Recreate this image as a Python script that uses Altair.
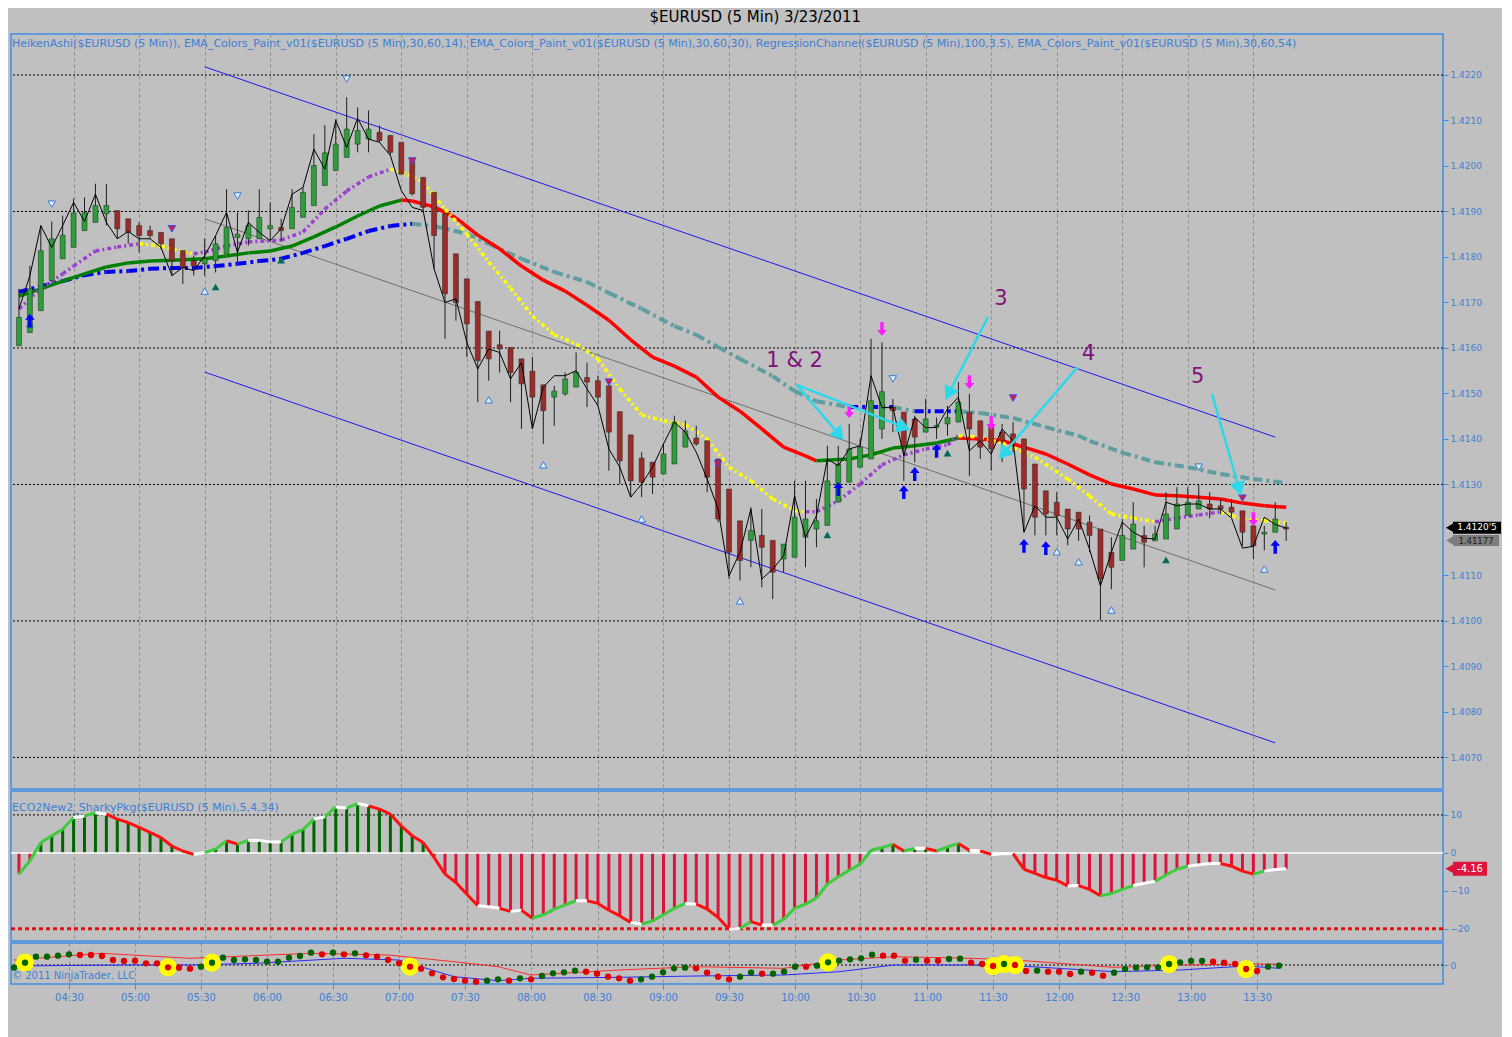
import altair as alt
import pandas as pd

# ---------------- data (prices in pips above 1.4000, 1 pip = 0.0001) ----------------
START_MIN = 245          # first bar = 04:05
BAR_MIN = 5
BASE = 1.4

ha_open = [160.5,163.4,168.2,174.8,179.6,182.1,185.8,187.6,189.5,190.2,188.4,186.9,185.8,185.4,184.0,181.4,179.2,178.5,179.2,180.7,
           184.3,184.0,184.0,186.2,186.5,186.2,188.7,191.3,195.7,199.0,201.9,204.8,205.9,207.4,206.7,205.2,201.5,197.5,194.2,189.5,
           180.7,175.2,170.2,163.7,160.7,160.1,157.6,154.9,151.9,149.2,149.9,151.4,153.5,152.8,151.7,146.0,140.9,135.8,134.9,132.3,
           134.5,138.2,140.2,139.6,135.6,129.0,122.0,117.7,118.8,117.7,113.6,114.0,118.4,120.2,121.0,126.1,130.5,133.8,135.6,142.2,
           147.0,145.9,144.4,141.5,142.6,143.3,143.7,145.9,144.0,143.0,141.5,141.1,140.0,134.5,128.6,126.1,124.6,123.9,121.7,120.2,
           115.1,113.3,115.8,118.8,117.6,118.0,120.2,123.2,124.6,125.7,125.3,125.0,124.2,120.9,119.1,119.5,120.6]
ha_close = [166.7,173.0,181.4,184.0,184.8,189.7,189.7,191.3,191.3,186.2,185.4,184.7,184.7,182.9,179.2,177.7,178.0,179.6,182.9,186.5,
            185.0,186.9,188.7,186.9,185.8,190.9,194.2,200.1,202.9,204.8,208.1,207.8,208.1,205.6,203.0,198.2,193.9,190.9,184.7,171.9,
            170.0,165.3,157.2,157.6,159.8,154.6,152.1,149.2,146.2,150.5,153.2,154.6,152.5,149.2,141.5,135.2,130.8,130.5,131.6,136.7,
            143.7,141.8,138.9,131.6,122.4,115.1,113.3,119.9,116.2,110.7,116.9,122.8,122.4,122.0,130.8,134.5,137.8,138.2,148.4,150.4,
            146.2,138.5,140.4,144.4,143.0,144.7,148.1,142.2,138.2,137.8,139.6,139.3,129.0,122.8,123.5,123.1,120.2,120.2,118.8,109.2,
            111.8,118.8,121.3,117.3,119.1,123.5,125.7,126.1,126.4,124.6,124.6,123.9,119.5,116.5,119.5,122.4,120.2]
ha_high = [173.0,178.1,186.9,187.8,189.1,192.8,193.1,196.1,196.1,190.2,188.4,187.6,186.9,185.4,184.0,181.4,180.3,184.0,184.7,194.9,
           189.8,190.2,194.9,192.0,188.4,194.9,195.3,207.0,209.0,210.3,215.1,212.9,212.2,208.9,206.7,205.2,201.5,197.5,194.2,189.5,
           180.7,175.2,170.2,163.7,163.8,160.1,157.6,158.0,151.9,151.7,154.6,159.0,156.8,153.9,151.7,146.0,140.9,137.1,134.9,138.9,
           145.1,144.0,142.9,139.6,135.6,129.0,122.0,125.0,124.6,117.7,116.9,130.8,130.8,126.8,138.5,138.5,143.3,140.0,162.0,161.2,
           148.8,145.9,145.1,148.8,144.7,147.3,152.5,149.9,144.0,145.1,143.3,143.7,140.0,134.5,128.6,128.3,124.6,123.9,123.2,120.2,
           118.4,122.4,126.1,120.9,120.9,128.3,129.4,129.4,129.9,128.3,126.8,126.8,124.2,123.2,120.9,126.1,121.7]
ha_low = [160.5,163.4,168.2,174.8,179.6,182.1,185.8,187.6,186.9,184.0,182.9,181.0,184.0,181.8,175.9,174.1,175.9,175.9,176.6,180.7,
          178.8,182.5,184.0,183.6,183.6,186.2,188.7,191.3,195.7,199.0,201.9,203.0,203.0,205.2,202.3,198.2,193.5,190.2,177.4,162.0,
          166.0,158.0,148.1,152.8,154.6,148.1,142.2,142.2,138.9,142.9,149.5,151.4,147.0,147.3,133.0,130.1,127.2,127.2,127.9,132.3,
          134.5,138.2,138.5,128.3,121.7,109.2,108.9,111.8,107.4,104.8,110.7,114.0,111.8,116.2,121.0,126.1,130.5,133.8,135.6,140.0,
          141.5,130.8,134.9,141.5,140.0,140.7,143.7,131.9,135.6,133.0,134.9,137.1,119.5,118.8,118.8,118.8,116.6,117.6,115.1,100.1,
          107.0,113.3,115.8,111.8,117.6,118.0,120.2,123.2,124.6,122.6,123.5,122.8,116.5,113.6,115.5,119.5,117.6]
close_line = [168.6,175.9,186.9,182.1,186.9,192.0,187.8,193.8,187.6,184.0,185.6,184.0,184.0,182.1,175.9,177.7,177.0,180.3,184.7,189.8,
              181.0,187.6,185.4,183.6,186.2,193.8,195.3,203.7,199.3,210.0,204.1,210.5,205.9,205.2,202.3,194.6,190.9,190.2,177.4,170.0,
              170.8,161.2,155.4,159.8,159.0,153.2,156.8,142.2,151.4,153.9,153.9,155.0,151.0,147.3,137.8,133.8,127.2,130.1,133.8,138.9,
              143.7,141.5,137.1,131.2,124.6,109.9,115.1,124.6,109.2,111.4,114.3,127.5,118.4,123.1,135.6,134.1,137.8,138.5,153.9,146.9,
              146.9,136.3,144.7,142.5,142.5,146.6,149.2,137.4,139.6,136.7,142.2,139.6,119.5,125.3,122.8,122.8,118.0,122.4,115.8,107.7,
              115.1,121.7,119.5,118.2,118.0,126.1,125.3,125.7,125.7,124.6,124.6,122.6,116.0,116.4,122.8,121.2,120.4]

ema14_bar = [0,2,4,5,7,9,11,13,15,16,17,19,21,24,26,28,30,32,34,35,37,39,41,43,45,47,49,51,53,55,57,59,61,63,65,67,69,71,72,
             73,75,77,79,81,83,85,86,88,90,93,96,98,100,102,104,106,108,110,112,114,116]
ema14_pips = [168.6,173.0,176.3,178.0,181.3,182.2,182.9,182.4,181.1,180.7,181.1,182.4,183.3,183.7,185.5,190.5,194.5,197.6,199.3,198.7,
              196.5,190.5,185.1,178.9,173.2,167.0,162.9,160.9,157.6,151.0,145.3,144.0,143.1,140.0,133.8,130.8,126.8,124.2,124.0,
              124.0,126.4,130.1,134.3,136.5,137.8,138.7,140.7,140.4,139.1,136.0,131.2,127.5,123.5,122.6,121.8,122.6,123.3,124.0,122.4,122.0,121.5]

ema30_bar = [0,2,4,6,8,10,12,14,17,19,21,23,25,27,29,31,33,35,36,38,40,42,44,46,48,50,52,54,56,58,60,62,64,66,68,70,72,73,
             76,78,80,82,84,86,88,90,92,94,96,98,100,102,104,106,108,110,112,114,116]
ema30_pips = [171.4,173.0,174.7,176.3,177.8,178.7,179.1,179.3,179.6,180.2,180.9,181.3,182.4,184.4,186.6,189.0,191.2,192.5,192.3,191.0,
              188.6,184.8,181.8,178.0,174.9,172.5,169.4,166.1,161.8,158.0,156.0,153.6,149.2,146.1,142.2,138.2,136.3,135.2,
              135.6,136.5,138.0,138.5,139.1,140.2,140.0,139.6,138.2,136.7,134.5,132.1,130.1,129.0,127.7,127.5,127.2,126.8,125.9,125.3,125.0]

ema54_bar = [0,2,4,6,8,10,12,14,16,18,20,22,24,26,28,30,32,34,36,38,41,43,46,49,52,54,57,60,62,64,66,69,71,73,76,80,82,86,88,
             91,94,97,98,101,104,107,110,113,116]
ema54_pips = [172.3,173.6,174.7,176.0,176.7,176.9,177.4,177.6,177.6,178.0,178.5,179.1,179.6,180.9,182.4,184.0,185.7,186.8,187.3,186.8,
              185.1,182.9,179.6,176.7,174.5,172.1,168.6,164.8,162.9,160.2,157.6,153.8,150.5,148.3,147.0,147.0,146.1,146.1,145.7,
              144.6,142.6,140.7,139.6,137.0,134.9,133.8,132.3,131.2,130.3]

# regression channel (100 bars): start / end values
reg_bars = [17, 115]
reg_upper = [221.8, 140.4]
reg_mid = [188.4, 106.8]
reg_lower = [154.7, 73.2]

level_lines = [1.4070, 1.4100, 1.4130, 1.4160, 1.4190, 1.4220]
# right-axis price labels (1.4120 sits under the last-price tag)
price_ticks = [1.4070, 1.4080, 1.4090, 1.4100, 1.4110, 1.4130, 1.4140, 1.4150, 1.4160, 1.4170,
               1.4180, 1.4190, 1.4200, 1.4210, 1.4220]

# markers (bar index, pips)
swing_high_bar = [3, 20, 30, 80, 108]
swing_high_pips = [191.6, 193.4, 219.1, 153.2, 133.8]
swing_low_bar = [17, 43, 48, 57, 66, 95, 97, 100, 114]
swing_low_pips = [172.5, 148.6, 134.3, 122.4, 104.4, 115.2, 113.0, 102.4, 111.4]
teal_up_bar = [1, 18, 24, 74, 85, 105]
teal_up_pips = [165.3, 173.4, 179.3, 118.9, 136.9, 113.4]
red_down_bar = [14, 36, 54, 64, 91, 112]
red_down_pips = [186.2, 201.1, 152.5, 134.5, 149.0, 127.0]
blue_arrow_bar = [1, 75, 81, 82, 84, 92, 94, 115]
blue_arrow_pips = [166.0, 129.0, 128.3, 132.3, 137.4, 116.5, 116.0, 116.3]
mag_arrow_bar = [76, 79, 87, 89, 113]
mag_arrow_pips = [146.1, 164.2, 152.5, 143.5, 122.4]

# hand-drawn notes: arrow from (bar, pips) to (bar, pips)
note_from_bar = [71.2, 71.2, 88.7, 96.9, 109.2]
note_from_pips = [151.9, 151.9, 166.8, 155.8, 149.9]
note_to_bar = [75.1, 81.0, 85.1, 90.1, 111.7]
note_to_pips = [140.9, 142.6, 149.9, 136.7, 129.0]
note_labels = ["1 & 2", "3", "4", "5"]
note_label_bar = [71.0, 89.9, 97.9, 107.9]
note_label_pips = [157.1, 170.8, 158.7, 153.6]

# ECO2New2 oscillator
eco = [-5.6,-2.1,2.7,4.5,6.2,9.3,9.7,10.6,10.2,8.9,8.0,6.7,5.4,4.0,1.8,0.5,-0.4,0.1,1.0,3.2,
       2.3,3.3,3.3,2.9,2.9,4.9,6.2,8.9,9.5,12.1,11.8,13.0,12.4,11.5,10.2,7.1,4.5,2.7,-1.2,-5.6,
       -7.8,-10.9,-13.9,-14.2,-14.6,-15.4,-15.1,-17.2,-16.3,-14.8,-13.7,-12.6,-12.6,-13.3,-15.1,-16.6,-18.3,-18.8,-17.9,-16.3,
       -14.6,-13.3,-13.5,-14.8,-17.0,-20.1,-19.9,-18.1,-19.0,-19.0,-17.5,-14.6,-13.5,-11.9,-8.2,-6.3,-4.6,-3.0,0.7,1.4,
       2.3,0.5,1.2,1.2,0.5,1.6,2.5,0.7,0.5,-0.4,-0.2,-0.2,-4.3,-5.4,-6.5,-7.2,-8.7,-8.6,-9.6,-11.3,
       -10.7,-9.6,-8.6,-8.0,-7.5,-5.8,-4.3,-3.5,-3.1,-2.8,-2.8,-3.5,-4.8,-5.6,-4.8,-4.4,-4.2]
eco_levels = [10, 0, -20]

# bottom dot oscillator
osc = [-2.7,2.3,8.3,8.3,9.3,10.7,10.0,10.0,9.0,5.0,4.0,4.3,1.7,1.7,-2.3,-2.7,-3.7,-1.7,2.3,7.3,
       5.0,5.7,5.0,3.3,3.3,7.3,9.0,12.3,10.7,12.3,10.7,11.7,9.7,8.3,5.0,1.7,-1.7,-3.7,-8.3,-12.3,
       -14.0,-15.7,-16.7,-15.7,-14.3,-15.7,-13.3,-14.3,-11.0,-8.3,-7.3,-5.7,-6.7,-8.7,-11.7,-13.3,-15.7,-14.3,-11.7,-7.3,
       -3.3,-2.7,-3.3,-7.7,-11.7,-14.3,-11.7,-7.7,-8.7,-8.7,-6.7,-1.7,-1.7,-0.7,2.7,4.3,5.7,6.7,10.3,9.3,
       9.3,4.3,5.3,4.3,4.3,6.0,6.3,2.3,1.0,-1.0,1.0,0.0,-6.0,-5.7,-6.7,-6.7,-9.0,-6.7,-7.7,-10.7,
       -7.7,-4.0,-2.7,-2.3,-2.3,1.0,2.7,4.0,4.0,3.3,2.3,1.0,-4.0,-6.0,-1.7,-0.7]
osc_col = ("gggggg" "rrrrrrrrrrr" "ggggggggggg" "r" "g" "r" "g" "rrrrrrrrrrr" "gg" "r" "g" "r" "gggg"
           "rrrrr" "ggggg" "rrrr" "gg" "r" "ggg" "r" "gggggg" "rrr" "g" "rr" "gg" "rrr" "g" "rr" "g"
           "rrr" "g" "rr" "ggggggggg" "rrrrr" "gg")
osc_alert_bars = [1, 14, 18, 36, 74, 89, 90, 91, 105, 112]
osc_red_bar = [0, 8, 16, 27, 34, 40, 44, 47, 55, 62, 70, 75, 80, 87, 91, 100, 106, 112, 115]
osc_red_val = [5, 11.7, 6.7, 11.7, 10, 3.3, -1.7, -10, -5, -1.7, -3.3, 5, 8.3, 6.7, 5, -2.3, 0, 1, 1]
osc_blue_bar = [0, 10, 16, 22, 30, 35, 40, 44, 47, 55, 62, 70, 75, 80, 87, 91, 100, 106, 112, 115]
osc_blue_val = [-1, 0, 0, 1.7, 6.7, 5, -11.7, -15.7, -13.3, -12.3, -11, -10, -6.7, 0, 0, -0.7, -6.7, -5, -1, -3.3]

last_price_pips = 120.5
last_price_text = "1.4120'5"
other_price_pips = 117.7
other_price_text = "1.41177"
eco_last_text = "-4.16"

x_ticks = [270, 300, 330, 360, 390, 420, 450, 480, 510, 540, 570, 600, 630, 660, 690, 720, 750, 780, 810]

# ---------------- helpers ----------------
def tmin(bar):
    return START_MIN + BAR_MIN * bar

def price(p):
    return round(BASE + p / 10000.0, 6)

N = len(ha_open)
W = 1432
FONT = "DejaVu Sans"
BLUE_TXT = "#3d7fd6"
PANEL = "#3d8fe8"

xscale = alt.Scale(domain=[243.64, 894.5], nice=False, zero=False)
grid_axis = alt.Axis(grid=True, gridColor="#8c8c8c", gridDash=[3, 3], gridWidth=1, labels=False,
                     ticks=False, domain=False, values=x_ticks, title=None)
X = alt.X("t:Q", scale=xscale, axis=grid_axis)

ysc_main = alt.Scale(domain=[price(63.06), price(229.01)], nice=False, zero=False)
yax_main = alt.Axis(orient="right", values=price_ticks, format=".4f",
                    labelColor=BLUE_TXT, tickColor=PANEL, domain=False, grid=False, title=None,
                    labelFontSize=9, tickSize=5, labelFont=FONT)
def YM(field):
    return alt.Y(field, type="quantitative", scale=ysc_main, axis=yax_main)

def HEX(field):
    return alt.Color(field, type="nominal", scale=None)


def seg_frame(bars, vals, up, down, name):
    rows = []
    for k in range(len(bars) - 1):
        c = up if vals[k + 1] >= vals[k] else down
        for j in (k, k + 1):
            rows.append(dict(t=tmin(bars[j]), y=price(vals[j]), seg=f"{name}{k}", c=c))
    return pd.DataFrame(rows)


# ---------------- main panel ----------------
candles = pd.DataFrame(dict(
    t=[tmin(i) for i in range(N)],
    o=[price(v) for v in ha_open], c=[price(v) for v in ha_close],
    h=[price(v) for v in ha_high], l=[price(v) for v in ha_low],
    close=[price(v) for v in close_line],
))
candles["col"] = ["#2e9e3c" if c >= o else "#9e2b2b" for o, c in zip(ha_open, ha_close)]

hl = alt.Chart(pd.DataFrame({"y": level_lines})).mark_rule(
    color="black", strokeDash=[2, 2], strokeWidth=1).encode(y=YM("y"))

gridlayer = alt.Chart(candles).mark_point(opacity=0, size=1).encode(x=X, y=YM("close"))

reg_rows = []
for name, vals, col in (("upper", reg_upper, "#1c1ce8"), ("mid", reg_mid, "#6e6e6e"), ("lower", reg_lower, "#1c1ce8")):
    for b, v in zip(reg_bars, vals):
        reg_rows.append(dict(t=tmin(b), y=price(v), line=name, c=col))
reg = alt.Chart(pd.DataFrame(reg_rows)).mark_line(strokeWidth=1).encode(
    x=X, y=YM("y"), detail="line:N", color=HEX("c"))

ema54 = alt.Chart(seg_frame(ema54_bar, ema54_pips, "#0000ee", "#5f9ea0", "e54")).mark_line(
    strokeWidth=4, strokeDash=[9, 4, 3, 4]).encode(x=X, y=YM("y"), detail="seg:N", color=HEX("c"))
ema30 = alt.Chart(seg_frame(ema30_bar, ema30_pips, "#008000", "#ff0000", "e30")).mark_line(
    strokeWidth=3.5).encode(x=X, y=YM("y"), detail="seg:N", color=HEX("c"))
ema14 = alt.Chart(seg_frame(ema14_bar, ema14_pips, "#9b3fd0", "#ffff00", "e14")).mark_line(
    strokeWidth=3.5, strokeDash=[4, 3, 2, 3]).encode(x=X, y=YM("y"), detail="seg:N", color=HEX("c"))

wicks = alt.Chart(candles).mark_rule(color="#1e1e1e", strokeWidth=1).encode(x=X, y=YM("l"), y2="h")
bodies = alt.Chart(candles).mark_bar(width=5, stroke="#1a2a1a", strokeWidth=0.5).encode(
    x=X, y=YM("o"), y2="c", color=HEX("col"))
closel = alt.Chart(candles).mark_line(color="black", strokeWidth=1).encode(x=X, y=YM("close"))


def mk(bars, pips):
    return pd.DataFrame(dict(t=[tmin(b) for b in bars], y=[price(p) for p in pips]))

sw_hi = alt.Chart(mk(swing_high_bar, swing_high_pips)).mark_point(
    shape="triangle-down", filled=True, fill="#d8f0ff", stroke="#3a78d0", strokeWidth=1, size=55, opacity=1
).encode(x=X, y=YM("y"))
sw_lo = alt.Chart(mk(swing_low_bar, swing_low_pips)).mark_point(
    shape="triangle-up", filled=True, fill="#d8f0ff", stroke="#3a78d0", strokeWidth=1, size=55, opacity=1
).encode(x=X, y=YM("y"))
teal = alt.Chart(mk(teal_up_bar, teal_up_pips)).mark_point(
    shape="triangle-up", filled=True, fill="#006b5e", size=60, opacity=1).encode(x=X, y=YM("y"))
reddn = alt.Chart(mk(red_down_bar, red_down_pips)).mark_point(
    shape="triangle-down", filled=True, fill="#e0143c", stroke="#3050ff", strokeWidth=1, size=55, opacity=1
).encode(x=X, y=YM("y"))
UP_ARROW = "M0,-1L0.7,-0.15L0.25,-0.15L0.25,1L-0.25,1L-0.25,-0.15L-0.7,-0.15Z"
DN_ARROW = "M0,1L0.7,0.15L0.25,0.15L0.25,-1L-0.25,-1L-0.25,0.15L-0.7,0.15Z"
barrow = alt.Chart(mk(blue_arrow_bar, blue_arrow_pips)).mark_point(
    shape=UP_ARROW, filled=True, fill="#0000ff", size=190, opacity=1).encode(x=X, y=YM("y"))
marrow = alt.Chart(mk(mag_arrow_bar, mag_arrow_pips)).mark_point(
    shape=DN_ARROW, filled=True, fill="#ff1aff", size=190, opacity=1).encode(x=X, y=YM("y"))

notes = pd.DataFrame(dict(
    t=[tmin(b) for b in note_from_bar], y=[price(p) for p in note_from_pips],
    t2=[tmin(b) for b in note_to_bar], y2=[price(p) for p in note_to_pips],
    ang=[139, 111, 207, 221, 164]))
note_lines = alt.Chart(notes).mark_rule(color="#2ed8ea", strokeWidth=2.5).encode(
    x=X, y=YM("y"), x2="t2", y2="y2")
note_heads = alt.Chart(notes).mark_point(shape="triangle-up", filled=True, fill="#2ed8ea", size=260,
                                         opacity=1).encode(
    x=alt.X("t2:Q", scale=xscale, axis=grid_axis), y=YM("y2"), angle=alt.Angle("ang:Q", scale=None))
note_text = alt.Chart(pd.DataFrame(dict(t=[tmin(b) for b in note_label_bar],
                                        y=[price(p) for p in note_label_pips], s=note_labels))).mark_text(
    color="#80107a", fontSize=21, font=FONT, align="center", baseline="middle").encode(
    x=X, y=YM("y"), text="s:N")

legend_main = alt.Chart(pd.DataFrame({"s": [
    "HeikenAshi($EURUSD (5 Min)), EMA_Colors_Paint_v01($EURUSD (5 Min),30,60,14), "
    "EMA_Colors_Paint_v01($EURUSD (5 Min),30,60,30), RegressionChannel($EURUSD (5 Min),100,3.5), "
    "EMA_Colors_Paint_v01($EURUSD (5 Min),30,60,54)"]})).mark_text(
    align="left", baseline="middle", color=BLUE_TXT, fontSize=11, font=FONT).encode(
    x=alt.value(1), y=alt.value(10), text="s:N")

gray_tag = pd.DataFrame(dict(y=[price(other_price_pips)], s=[other_price_text]))
black_tag = pd.DataFrame(dict(y=[price(last_price_pips)], s=[last_price_text]))
g_box = alt.Chart(gray_tag).mark_rect(height=11, color="#7d7d7d").encode(
    x=alt.value(W + 10), x2=alt.value(W + 56), y=YM("y"))
g_tip = alt.Chart(gray_tag).mark_point(shape="triangle-left", filled=True, size=80, opacity=1,
                                       color="#7d7d7d").encode(x=alt.value(W + 7), y=YM("y"))
g_txt = alt.Chart(gray_tag).mark_text(fontSize=8.5, font=FONT, color="#1a1a1a", dy=1).encode(
    x=alt.value(W + 33), y=YM("y"), text="s:N")
k_box = alt.Chart(black_tag).mark_rect(height=12, color="#000000").encode(
    x=alt.value(W + 10), x2=alt.value(W + 58), y=YM("y"))
k_tip = alt.Chart(black_tag).mark_point(shape="triangle-left", filled=True, size=90, opacity=1,
                                        color="#000000").encode(x=alt.value(W + 7), y=YM("y"))
k_txt = alt.Chart(black_tag).mark_text(fontSize=9, font=FONT, color="#ffffff", dy=-1).encode(
    x=alt.value(W + 34), y=YM("y"), text="s:N")

main = alt.layer(gridlayer, hl, reg, ema54, ema30, ema14, wicks, bodies, closel,
                 sw_hi, sw_lo, teal, reddn, barrow, marrow, note_lines, note_heads, note_text,
                 legend_main, g_box, g_tip, g_txt, k_box, k_tip, k_txt).properties(width=W, height=755)

# ---------------- ECO panel ----------------
ysc_eco = alt.Scale(domain=[-23.2, 16.3], nice=False, zero=False)
yax_eco = alt.Axis(orient="right", values=[10, 0, -10, -20], labelColor=BLUE_TXT, tickColor=PANEL,
                   domain=False, grid=False, title=None, labelFontSize=9, tickSize=5, labelFont=FONT)
def YE(field):
    return alt.Y(field, type="quantitative", scale=ysc_eco, axis=yax_eco)

eco_df = pd.DataFrame(dict(t=[tmin(i) for i in range(len(eco))], v=eco))
eco_df["col"] = ["#006400" if v >= 0 else "#dc143c" for v in eco]
eco_seg = []
for k in range(len(eco) - 1):
    d = eco[k + 1] - eco[k]
    c = "#3ecb3e" if d > 0.6 else ("#ff1010" if d < -0.6 else "#ffffff")
    for j in (k, k + 1):
        eco_seg.append(dict(t=tmin(j), v=eco[j], seg=k, c=c))

eco_grid = alt.Chart(eco_df).mark_point(opacity=0, size=1).encode(x=X, y=YE("v"))
eco_l10 = alt.Chart(pd.DataFrame({"v": [eco_levels[0]]})).mark_rule(color="black", strokeDash=[2, 2]).encode(y=YE("v"))
eco_l0 = alt.Chart(pd.DataFrame({"v": [eco_levels[1]]})).mark_rule(color="white", strokeWidth=1.5).encode(y=YE("v"))
eco_l20 = alt.Chart(pd.DataFrame({"v": [eco_levels[2]]})).mark_rule(color="#e01010", strokeWidth=3,
                                                                     strokeDash=[4, 3]).encode(y=YE("v"))
eco_bars = alt.Chart(eco_df).mark_bar(width=3).encode(x=X, y=YE("v"), y2=alt.datum(0), color=HEX("col"))
eco_line = alt.Chart(pd.DataFrame(eco_seg)).mark_line(strokeWidth=3).encode(
    x=X, y=YE("v"), detail="seg:N", color=HEX("c"))
eco_legend = alt.Chart(pd.DataFrame({"s": ["ECO2New2_SharkyPkg($EURUSD (5 Min),5,4,34)"]})).mark_text(
    align="left", baseline="middle", color=BLUE_TXT, fontSize=11, font=FONT).encode(
    x=alt.value(1), y=alt.value(17), text="s:N")
eco_tag_df = pd.DataFrame(dict(v=[eco[-1]], s=[eco_last_text]))
eco_tag_box = alt.Chart(eco_tag_df).mark_rect(height=14, color="#dc143c").encode(
    x=alt.value(W + 10), x2=alt.value(W + 44), y=YE("v"))
eco_tag_tip = alt.Chart(eco_tag_df).mark_point(shape="triangle-left", filled=True, size=110, opacity=1,
                                               color="#dc143c").encode(x=alt.value(W + 7), y=YE("v"))
eco_tag_txt = alt.Chart(eco_tag_df).mark_text(color="white", fontSize=10, font=FONT).encode(
    x=alt.value(W + 27), y=YE("v"), text="s:N")

eco_panel = alt.layer(eco_grid, eco_l10, eco_l20, eco_bars, eco_l0, eco_line, eco_legend,
                      eco_tag_box, eco_tag_tip, eco_tag_txt).properties(width=W, height=150)

# ---------------- bottom dot panel ----------------
ysc_b = alt.Scale(domain=[-19, 22], nice=False, zero=False)
yax_b = alt.Axis(orient="right", values=[0], labelColor=BLUE_TXT, tickColor=PANEL, domain=False,
                 grid=False, title=None, labelFontSize=9, tickSize=5, labelFont=FONT)
x_bottom = alt.X("t:Q", scale=xscale, axis=alt.Axis(
    grid=True, gridColor="#8c8c8c", gridDash=[3, 3], values=x_ticks, title=None,
    labelExpr="format(floor(datum.value/60),'02d') + ':' + format(datum.value % 60,'02d')",
    labelColor=BLUE_TXT, labelFontSize=10, labelFont=FONT, tickColor=PANEL, tickSize=5, domain=False,
    labelPadding=3))
def YB(field):
    return alt.Y(field, type="quantitative", scale=ysc_b, axis=yax_b)

osc_df = pd.DataFrame(dict(t=[tmin(i) for i in range(len(osc))], v=osc))
osc_df["col"] = ["#006400" if ch == "g" else "#e00000" for ch in osc_col]
alerts = osc_df.iloc[osc_alert_bars]
b_grid = alt.Chart(osc_df).mark_point(opacity=0, size=1).encode(x=x_bottom, y=YB("v"))
b_zero = alt.Chart(pd.DataFrame({"v": [0]})).mark_rule(color="black", strokeDash=[2, 2]).encode(y=YB("v"))
b_red = alt.Chart(pd.DataFrame(dict(t=[tmin(b) for b in osc_red_bar], v=osc_red_val))).mark_line(
    color="#ff2a2a", strokeWidth=1).encode(x=x_bottom, y=YB("v"))
b_blue = alt.Chart(pd.DataFrame(dict(t=[tmin(b) for b in osc_blue_bar], v=osc_blue_val))).mark_line(
    color="#2a2aff", strokeWidth=1).encode(x=x_bottom, y=YB("v"))
b_alert = alt.Chart(alerts).mark_point(filled=True, fill="#ffff00", size=330, opacity=1, shape="circle").encode(
    x=x_bottom, y=YB("v"))
b_dots = alt.Chart(osc_df).mark_point(filled=True, size=40, opacity=1, shape="circle").encode(
    x=x_bottom, y=YB("v"), color=HEX("col"))
b_copy = alt.Chart(pd.DataFrame({"s": ["\u00a9 2011 NinjaTrader, LLC"]})).mark_text(
    align="left", baseline="middle", color=BLUE_TXT, fontSize=10, font=FONT).encode(
    x=alt.value(1), y=alt.value(33), text="s:N")

bottom = alt.layer(b_grid, b_zero, b_red, b_blue, b_alert, b_dots, b_copy).properties(width=W, height=41)

chart = alt.vconcat(main, eco_panel, bottom, spacing=0).properties(
    title=alt.TitleParams("$EURUSD (5 Min)  3/23/2011", fontSize=15, font=FONT, fontWeight="normal",
                          color="black", anchor="middle", offset=8),
    padding={"left": 0, "top": 2, "right": 0, "bottom": 40},
).configure(background="#c0c0c0").configure_view(stroke=PANEL, strokeWidth=1.5)

chart.save("out.html", embed_options={"renderer": "svg", "actions": False})
